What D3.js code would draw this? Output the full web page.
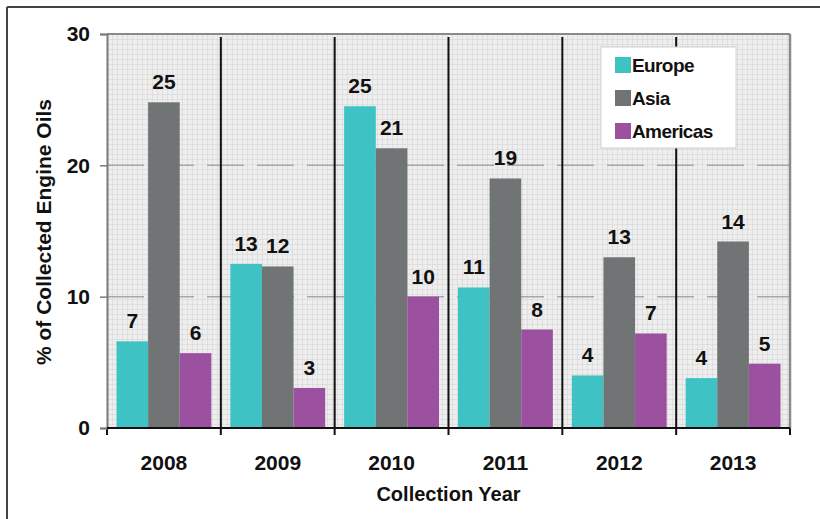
<!DOCTYPE html>
<html>
<head>
<meta charset="utf-8">
<script src="https://cdn.jsdelivr.net/npm/d3@7"></script>
<style>
  html, body { margin: 0; padding: 0; background: #fff; }
  svg { display: block; font-family: "Liberation Sans", Arial, sans-serif; }
</style>
</head>
<body>
<svg id="chart" width="820" height="519"></svg>
<script>
const years = ["2008", "2009", "2010", "2011", "2012", "2013"];
const seriesNames = ["Europe", "Asia", "Americas"];
const europe   = [6.6, 12.5, 24.5, 10.7, 4.0, 3.8];
const asia     = [24.8, 12.3, 21.3, 19.0, 13.0, 14.2];
const americas = [5.7, 3.05, 10.0, 7.5, 7.2, 4.9];
const europeLabels   = ["7", "13", "25", "11", "4", "4"];
const asiaLabels     = ["25", "12", "21", "19", "13", "14"];
const americasLabels = ["6", "3", "10", "8", "7", "5"];
const colors = ["#3fc2c3", "#717474", "#9c50a0"];
const yTicks = [0, 10, 20, 30];

const seriesValues = [europe, asia, americas];
const seriesLabels = [europeLabels, asiaLabels, americasLabels];

const svg = d3.select("#chart");
const L = 107, R = 790, T = 34, B = 428;

const x0 = d3.scaleBand().domain(years).range([L, R]).paddingInner(0).paddingOuter(0);
const x1 = d3.scaleBand().domain(seriesNames).range([0, x0.bandwidth()]).paddingInner(0).paddingOuter(0.3);
const y = d3.scaleLinear().domain([0, 30]).range([B, T]);

// outer frame (top and left only)
svg.append("line").attr("x1", 7).attr("x2", 820).attr("y1", 7).attr("y2", 7)
  .attr("stroke", "#444").attr("stroke-width", 2);
svg.append("line").attr("x1", 7).attr("x2", 7).attr("y1", 7).attr("y2", 519)
  .attr("stroke", "#444").attr("stroke-width", 2);

// grid pattern background
const defs = svg.append("defs");
const pat = defs.append("pattern").attr("id", "grid").attr("patternUnits", "userSpaceOnUse")
  .attr("width", 5).attr("height", 5).attr("x", L).attr("y", T);
pat.append("rect").attr("width", 5).attr("height", 5).attr("fill", "#eeeeee");
pat.append("path").attr("d", "M0,0.5H5M0.5,0V5").attr("stroke", "#dadada").attr("stroke-width", 0.8).attr("fill", "none");

svg.append("rect").attr("x", L).attr("y", T).attr("width", R - L).attr("height", B - T)
  .attr("fill", "url(#grid)");

// major dashed gridlines
svg.append("g").selectAll("line").data([10, 20]).join("line")
  .attr("x1", L).attr("x2", R).attr("y1", d => y(d)).attr("y2", d => y(d))
  .attr("stroke", "#a8a8a8").attr("stroke-width", 1.5).attr("stroke-dasharray", "37,13");

// plot border top and right
svg.append("line").attr("x1", L).attr("x2", R).attr("y1", T).attr("y2", T)
  .attr("stroke", "#8a8a8a").attr("stroke-width", 2);
svg.append("line").attr("x1", R).attr("x2", R).attr("y1", T).attr("y2", B)
  .attr("stroke", "#8a8a8a").attr("stroke-width", 2.5);

// bars
const groups = svg.append("g").selectAll("g").data(years).join("g")
  .attr("transform", d => `translate(${x0(d)},0)`);
seriesNames.forEach((s, si) => {
  groups.append("rect")
    .attr("x", x1(s))
    .attr("width", x1.bandwidth())
    .attr("y", (d, i) => y(seriesValues[si][i]))
    .attr("height", (d, i) => B - y(seriesValues[si][i]))
    .attr("fill", colors[si]);
  groups.append("text")
    .attr("x", x1(s) + x1.bandwidth() / 2)
    .attr("y", (d, i) => y(seriesValues[si][i]) - 13)
    .attr("text-anchor", "middle")
    .attr("font-size", 21).attr("font-weight", "bold").attr("fill", "#111")
    .text((d, i) => seriesLabels[si][i]);
});

// group separators (black) extending below axis as ticks
const bounds = years.map(d => x0(d)).concat([R]);
svg.append("g").selectAll("line").data(bounds.slice(1, -1)).join("line")
  .attr("x1", d => d).attr("x2", d => d).attr("y1", T + 3).attr("y2", B + 7)
  .attr("stroke", "#111").attr("stroke-width", 2);
svg.append("g").selectAll("line").data([L, R]).join("line")
  .attr("x1", d => d).attr("x2", d => d).attr("y1", B).attr("y2", B + 7)
  .attr("stroke", "#111").attr("stroke-width", 2);

// left axis
const yAxis = svg.append("g").attr("transform", `translate(${L},0)`)
  .call(d3.axisLeft(y).tickValues(yTicks).tickSize(7).tickPadding(10));
yAxis.select(".domain").attr("stroke", "#7a7a7a").attr("stroke-width", 2);
yAxis.selectAll(".tick line").attr("stroke", "#7a7a7a").attr("stroke-width", 1.5);
yAxis.selectAll(".tick text").attr("font-size", 21).attr("font-weight", "bold")
  .attr("fill", "#111").attr("font-family", "Liberation Sans, Arial, sans-serif");

// bottom axis line
svg.append("line").attr("x1", L).attr("x2", R).attr("y1", B).attr("y2", B)
  .attr("stroke", "#111").attr("stroke-width", 2);

// x labels
const xAxis = svg.append("g").attr("transform", `translate(0,${B})`)
  .call(d3.axisBottom(x0).tickSize(0).tickPadding(27));
xAxis.select(".domain").remove();
xAxis.selectAll(".tick text").attr("font-size", 21).attr("font-weight", "bold")
  .attr("fill", "#111").attr("font-family", "Liberation Sans, Arial, sans-serif");

// axis titles
svg.append("text").attr("x", (L + R) / 2).attr("y", 501).attr("text-anchor", "middle")
  .attr("font-size", 20).attr("font-weight", "bold").attr("fill", "#111")
  .text("Collection Year");
svg.append("text").attr("transform", "translate(51,232) rotate(-90)").attr("text-anchor", "middle")
  .attr("font-size", 21).attr("font-weight", "bold").attr("fill", "#111")
  .text("% of Collected Engine Oils");

// legend
const lg = svg.append("g");
lg.append("rect").attr("x", 601).attr("y", 47).attr("width", 135).attr("height", 101)
  .attr("fill", "#fff").attr("stroke", "#cfcfcf").attr("stroke-width", 1);
const items = lg.selectAll("g.item").data(seriesNames).join("g").attr("class", "item")
  .attr("transform", (d, i) => `translate(615,${65 + i * 33})`);
items.append("rect").attr("x", 0).attr("y", -8).attr("width", 16).attr("height", 16)
  .attr("fill", (d, i) => colors[i]);
items.append("text").attr("x", 17).attr("y", 7).attr("font-size", 19).attr("font-weight", "bold")
  .attr("letter-spacing", -0.6).attr("fill", "#111").text(d => d);
</script>
</body>
</html>
